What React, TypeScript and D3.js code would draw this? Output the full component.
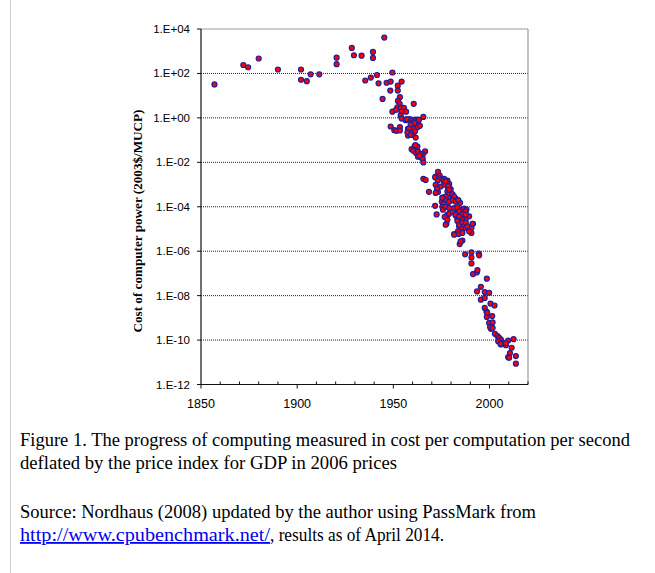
import React from "react";
import * as d3 from "d3";

// Year of each observation
const years: number[] = [
  1857, 1872, 1874.5, 1880, 1890, 1902, 1902, 1905, 1907, 1911.5, 1920.5, 1920.5,
  1928.4, 1929.5, 1933.5, 1939.4, 1939.4, 1945.3, 1941.5, 1949.5, 1935.4, 1938.3,
  1942.3, 1946.5, 1948.6, 1954.3, 1952.3, 1948.4, 1952.3, 1944.4, 1953.4, 1952.4,
  1960.6, 1953.3, 1952.1, 1953.9, 1955.5, 1949.5, 1951.4, 1954.2, 1956.6, 1953.8,
  1954.3, 1956.4, 1958.5, 1959.9, 1961.3, 1962.7, 1965.6, 1956.9, 1959.7, 1963.3,
  1962.5, 1948.6, 1950.5, 1951.6, 1953.4, 1953.4, 1957.6, 1959.0, 1960.4, 1958.3,
  1959.9, 1957.6, 1960.2, 1961.6, 1961.6, 1962.7, 1963.3, 1960.9, 1959.0, 1963.8,
  1958.1, 1957.3, 1959.0, 1961.3,
  1959.5, 1961.1, 1962.5, 1960.4, 1961.8, 1966.5, 1965.3, 1962.8, 1964.2, 1961.5,
  1962.8, 1964.2, 1965.3, 1965.6, 1963.5,
  1973.2, 1972.0, 1972.9, 1974.1, 1965.6, 1966.8, 1976.4, 1976.0, 1977.2, 1978.1,
  1979.0, 1976.4, 1974.6, 1978.4, 1979.8, 1973.2, 1968.5, 1978.1, 1979.0, 1980.7,
  1977.2, 1979.8, 1981.6, 1982.4, 1983.6, 1984.7, 1975.5, 1975.2, 1976.0, 1971.7,
  1972.5, 1975.5, 1975.8, 1978.1, 1978.1, 1976.7, 1979.0, 1980.7, 1982.4, 1983.3,
  1983.6, 1985.0, 1986.8, 1988.0, 1987.3, 1989.4, 1987.6, 1985.9, 1985.0, 1984.2,
  1985.4, 1987.6, 1990.6, 1991.4, 1990.6, 1985.6, 1981.6, 1983.6, 1977.6, 1985.9,
  1984.5,
  1971.7, 1973.8, 1973.1, 1977.2, 1978.6, 1972.0, 1972.7, 1972.0, 1979.0, 1980.7,
  1981.6, 1975.5, 1977.6, 1979.0, 1981.0, 1982.4, 1983.8, 1977.2, 1979.0, 1981.6,
  1983.3, 1987.6, 1984.2, 1985.9, 1987.6, 1982.4, 1984.2,
  1977.2, 1978.1, 1983.3, 1984.2, 1985.9, 1987.6, 1988.5, 1991.1, 1989.4, 1983.9,
  1985.9, 1981.6, 1985.0,
  1987.3, 1990.6, 1990.6, 1994.4, 1994.6, 1990.6, 1991.4, 1993.4, 1993.7, 1998.6,
  1995.5, 1993.5, 1997.5, 1999.8, 1995.5, 1997.5, 2000.5, 2002.6, 1997.5, 1998.4,
  1998.6, 2001.4, 1998.8, 1999.8, 2001.6, 2000.7, 2000.3, 2001.6, 2002.8, 2004.2,
  2005.0, 2005.9, 2004.5, 2006.8, 2008.5, 2009.7, 2012.5, 2011.5, 2010.6, 2009.7,
  2010.2, 2013.7, 2013.7, 2005.9, 2007.1, 2005.7, 2008.5,
];

// Cost of computer power (2003$/MUCP)
const costs: number[] = [
  3.2e1, 2.4e2, 1.9e2, 4.7e2, 1.5e2, 1.5e2, 5.2e1, 4.5e1, 9.1e1, 9.1e1, 5.1e2, 2.6e2,
  1.4e3, 6.6e2, 6.3e2, 9.3e2, 5.0e2, 4.1e3, 8.5e1, 1.1e2, 4.8e1, 6.5e1,
  3.6e1, 3.8e1, 4.3e1, 4.3e1, 2.8e1, 1.7e1, 1.7e1, 7.1, 8.5, 5.8,
  4.3, 4.3, 3.0, 2.9, 2.8, 1.9, 2.3, 1.9, 1.9, 1.26,
  0.93, 0.79, 0.87, 0.81, 0.83, 0.83, 1.1, 0.87, 0.55, 0.44,
  0.38, 0.41, 0.28, 0.26, 0.38, 0.27, 0.32, 0.31, 0.32, 0.23,
  0.23, 0.16, 0.17, 0.13, 0.72, 0.66, 0.81, 0.58, 0.5, 0.44,
  0.33, 0.22, 0.17, 0.25,
  3.9e-2, 5.4e-2, 5.1e-2, 3.3e-2, 2.6e-2, 3.1e-2, 2.2e-2, 1.8e-2, 1.7e-2, 5.9e-2,
  3.0e-2, 2.4e-2, 1.4e-2, 9.8e-3, 2.0e-2,
  3.7e-3, 2.3e-3, 1.9e-3, 2.5e-3, 1.8e-3, 1.6e-3, 1.8e-3, 1.5e-3, 1.15e-3, 1.5e-3,
  1.07e-3, 9.8e-4, 8.1e-4, 7.6e-4, 6.2e-4, 4.6e-4, 4.7e-4, 4.9e-4, 3.8e-4, 3.5e-4,
  2.9e-4, 2.0e-4, 1.9e-4, 2.3e-4, 1.9e-4, 1.5e-4, 2.6e-4, 1.7e-4, 1.35e-4, 1.1e-4,
  4.5e-5, 9.8e-5, 7.4e-5, 1.0e-4, 4.3e-5, 3.5e-5, 4.9e-5, 6.0e-5, 4.0e-5, 3.0e-5,
  6.8e-5, 7.4e-5, 8.3e-5, 7.4e-5, 5.2e-5, 3.7e-5, 2.6e-5, 2.6e-5, 1.9e-5, 1.3e-5,
  1.1e-5, 1.1e-5, 1.1e-5, 1.7e-5, 6.6e-6, 7.2e-6, 5.9e-6, 7.8e-6, 1.7e-5, 3.0e-6,
  2.1e-6,
  2.1e-3, 1.9e-3, 1.5e-3, 1.4e-3, 8.5e-4, 9.8e-4, 6.5e-4, 4.2e-4, 5.8e-4, 3.7e-4,
  2.9e-4, 2.5e-4, 2.0e-4, 1.7e-4, 2.0e-4, 1.7e-4, 2.0e-4, 1.0e-4, 8.7e-5, 8.7e-5,
  9.3e-5, 6.2e-5, 6.2e-5, 4.7e-5, 4.4e-5, 4.4e-5, 3.6e-5,
  1.55e-5, 2.6e-5, 2.3e-5, 1.55e-5, 2.0e-5, 1.9e-5, 1.3e-5, 1.7e-5, 7.8e-6, 5.9e-6,
  6.6e-6, 5.5e-6, 2.8e-6,
  7.2e-7, 8.9e-7, 5.2e-7, 7.8e-7, 6.5e-7, 2.8e-7, 9.3e-8, 1.1e-7, 1.4e-7, 5.8e-8,
  2.5e-8, 1.55e-8, 1.45e-8, 1.35e-8, 6.6e-9, 7.9e-9, 4.4e-9, 3.6e-9, 2.8e-9, 1.9e-9,
  1.1e-9, 1.2e-9, 1.7e-9, 5.9e-10, 6.3e-10, 3.2e-10, 3.9e-10, 3.5e-10, 1.9e-10, 1.5e-10,
  1.26e-10, 1.05e-10, 8.9e-11, 7.4e-11, 5.9e-11, 9.5e-11, 1.1e-10, 4.5e-11, 2.6e-11, 1.7e-11,
  1.6e-11, 1.9e-11, 8.7e-12, 6.3e-11, 7.4e-11, 6.8e-11, 7.2e-11,
];

const yTickValues: number[] = [1e4, 1e2, 1e0, 1e-2, 1e-4, 1e-6, 1e-8, 1e-10, 1e-12];
const yTickLabels: string[] = [
  "1.E+04", "1.E+02", "1.E+00", "1.E-02", "1.E-04", "1.E-06", "1.E-08", "1.E-10", "1.E-12",
];
const xMajorTicks: number[] = [1850, 1900, 1950, 2000];
const xMinorTicks: number[] = [1860, 1870, 1880, 1890, 1910, 1920, 1930, 1940, 1960, 1970, 1980, 1990, 2010, 2020];

const yTitle = "Cost of computer power (2003$/MUCP)";
const captionLine1 = "Figure 1. The progress of computing measured in cost per computation per second";
const captionLine2 = "deflated by the price index for GDP in 2006 prices";
const sourceLine1 = "Source: Nordhaus (2008) updated by the author using PassMark from";
const sourceLink = "http://www.cpubenchmark.net/";
const sourceRest = ", results as of April 2014.";

export default function App() {
  const W = 655;
  const H = 573;
  const left = 201;
  const right = 528;
  const top = 29;
  const bottom = 384.5;

  const x = d3.scaleLinear().domain([1850, 2020]).range([left, right]);
  const y = d3.scaleLog().domain([1e-12, 1e4]).range([bottom, top]);

  const points = years.map((yr, i) => ({ yr, v: costs[i] }));
  const serif = "'Liberation Serif', 'Times New Roman', serif";
  const sans = "'Liberation Sans', Arial, sans-serif";

  return (
    <svg
      width={W}
      height={H}
      viewBox={`0 0 ${W} ${H}`}
      style={{ position: "absolute", left: 0, top: 0, background: "#fff" }}
    >
      <rect x={0} y={0} width={W} height={H} fill="#fff" />
      <line x1={10.5} y1={0} x2={10.5} y2={H} stroke="#cfcfcf" strokeWidth={1} />

      {/* gridlines */}
      {yTickValues.slice(1, -1).map((v) => (
        <line
          key={"g" + v}
          x1={left}
          x2={right}
          y1={y(v)}
          y2={y(v)}
          stroke="#222"
          strokeWidth={1}
          strokeDasharray="1,1"
        />
      ))}

      {/* plot frame (top and right) */}
      <line x1={left} x2={right} y1={top} y2={top} stroke="#9a9a9a" strokeWidth={1} />
      <line x1={right} x2={right} y1={top} y2={bottom} stroke="#9a9a9a" strokeWidth={1.2} />

      {/* y axis */}
      <line x1={left} x2={left} y1={top} y2={bottom} stroke="#111" strokeWidth={1.2} />
      {yTickValues.map((v, i) => (
        <g key={"yt" + v}>
          <line x1={left - 4} x2={left} y1={y(v)} y2={y(v)} stroke="#111" strokeWidth={1} />
          <text
            x={190}
            y={y(v)}
            dy="0.35em"
            textAnchor="end"
            fontFamily={sans}
            fontSize={11.5}
            fill="#000"
          >
            {yTickLabels[i]}
          </text>
        </g>
      ))}

      {/* x axis */}
      <line x1={left} x2={right} y1={bottom} y2={bottom} stroke="#111" strokeWidth={1.2} />
      {xMinorTicks.map((t) => (
        <line key={"xm" + t} x1={x(t)} x2={x(t)} y1={bottom - 3} y2={bottom} stroke="#111" strokeWidth={1} />
      ))}
      {xMajorTicks.map((t) => (
        <g key={"xt" + t}>
          <line x1={x(t)} x2={x(t)} y1={bottom} y2={bottom + 4} stroke="#111" strokeWidth={1} />
          <text x={x(t)} y={408} textAnchor="middle" fontFamily={sans} fontSize={12.5} fill="#000">
            {t}
          </text>
        </g>
      ))}

      {/* y axis title */}
      <text
        transform={`translate(142, 221) rotate(-90)`}
        textAnchor="middle"
        fontFamily={serif}
        fontWeight="bold"
        fontSize={12}
        fill="#000"
        textLength={223}
        lengthAdjust="spacingAndGlyphs"
      >
        {yTitle}
      </text>

      {/* points */}
      {points.map((p, i) => (
        <circle
          key={"p" + i}
          cx={x(p.yr)}
          cy={y(p.v)}
          r={2.5}
          fill="#ff0000"
          stroke="#1f1f9a"
          strokeWidth={1.2}
        />
      ))}

      {/* caption */}
      <text x={20} y={446} fontFamily={serif} fontSize={18} fill="#000" textLength={610} lengthAdjust="spacingAndGlyphs">
        {captionLine1}
      </text>
      <text x={20} y={469} fontFamily={serif} fontSize={18} fill="#000" textLength={377} lengthAdjust="spacingAndGlyphs">
        {captionLine2}
      </text>
      <text x={20} y={518} fontFamily={serif} fontSize={18} fill="#000" textLength={516} lengthAdjust="spacingAndGlyphs">
        {sourceLine1}
      </text>
      <text x={20} y={541} fontFamily={serif} fontSize={18} fill="#0000ee" textDecoration="underline" textLength={250} lengthAdjust="spacingAndGlyphs">
        {sourceLink}
      </text>
      <text x={270} y={541} fontFamily={serif} fontSize={18} fill="#000" textLength={174} lengthAdjust="spacingAndGlyphs">
        {sourceRest}
      </text>
    </svg>
  );
}
